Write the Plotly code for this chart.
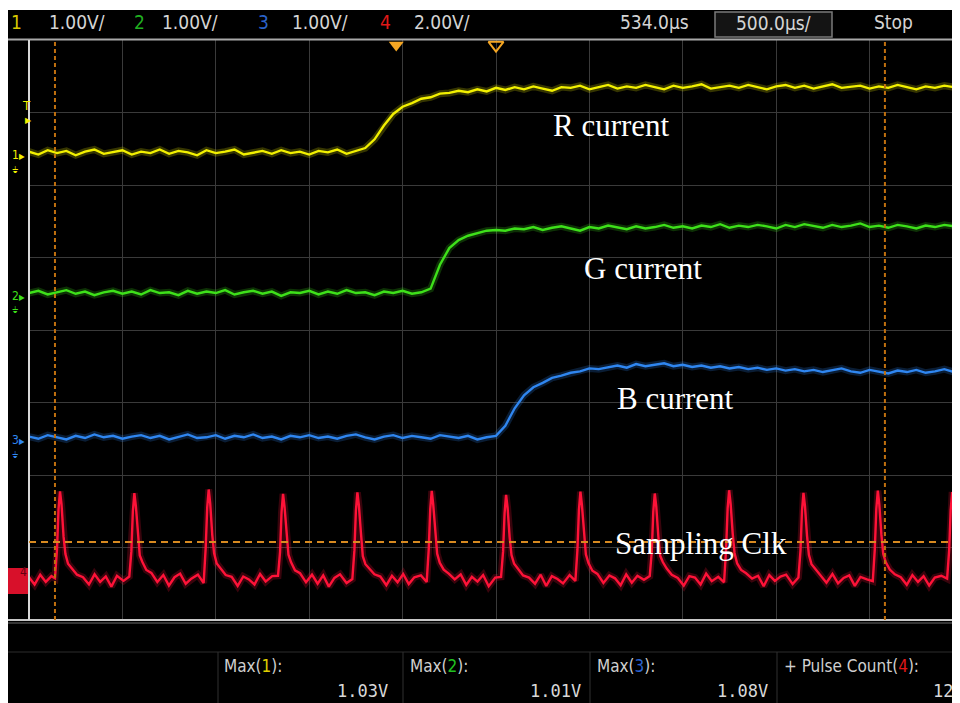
import plotly.graph_objects as go

# ---------------- data ----------------
# regular acquisition timebase: 50 us per sample, 100 samples
sample_t_us = [i * 50 for i in range(100)]

# Channel 1 (R current), volts
ch1_R = [0.05, 0.01, 0.07, 0.03, 0.06, 0.00, 0.05, 0.08, 0.02, 0.04,
         0.07, 0.01, 0.05, 0.03, 0.08, 0.02, 0.06, 0.04, 0.00, 0.07,
         0.03, 0.05, 0.08, 0.01, 0.04, 0.06, 0.02, 0.07, 0.03, 0.05,
         0.01, 0.06, 0.04, 0.08, 0.02,
         0.06, 0.10, 0.22, 0.41, 0.57, 0.67, 0.72, 0.78, 0.80, 0.85, 0.86, 0.89, 0.87,
         0.91, 0.88, 0.93, 0.90, 0.94, 0.91, 0.95, 0.92, 0.89, 0.94,
         0.93, 0.96, 0.91, 0.94, 0.97, 0.92, 0.95, 0.93, 0.97, 0.94,
         0.91, 0.96, 0.93, 0.95, 0.98, 0.92, 0.94, 0.96, 0.93, 0.97,
         0.94, 0.91, 0.95, 0.97, 0.93, 0.96, 0.92, 0.95, 0.98, 0.93,
         0.94, 0.96, 0.92, 0.95, 0.93, 0.97, 0.94, 0.91, 0.95, 0.93,
         0.96, 0.94]

# Channel 2 (G current), volts
ch2_G = [0.04, 0.07, 0.02, 0.05, 0.08, 0.03, 0.06, 0.01, 0.05, 0.07,
         0.03, 0.06, 0.02, 0.08, 0.04, 0.05, 0.01, 0.07, 0.03, 0.06,
         0.04, 0.08, 0.02, 0.05, 0.07, 0.03, 0.06, 0.00, 0.05, 0.04,
         0.07, 0.02, 0.06, 0.03, 0.08, 0.04, 0.05, 0.01, 0.06, 0.04,
         0.07, 0.03, 0.05,
         0.10, 0.43, 0.66, 0.77, 0.83, 0.87, 0.90, 0.91, 0.90, 0.93,
         0.92, 0.95, 0.91, 0.94, 0.96, 0.93, 0.90, 0.95, 0.93, 0.97,
         0.94, 0.92, 0.96, 0.93, 0.95, 0.98, 0.94, 0.96, 0.93, 0.97,
         0.95, 0.99, 0.94, 0.97, 0.95, 0.98, 0.96, 0.93, 0.98, 0.95,
         0.99, 0.96, 0.94, 0.98, 0.95, 0.97, 1.00, 0.95, 0.97, 0.94,
         0.98, 0.96, 0.93, 0.97, 0.95, 0.98, 0.96]

# Channel 3 (B current), volts
ch3_B = [0.05, 0.02, 0.07, 0.04, 0.01, 0.06, 0.03, 0.08, 0.04, 0.06,
         0.02, 0.05, 0.07, 0.03, 0.06, 0.01, 0.05, 0.08, 0.03, 0.04,
         0.07, 0.02, 0.06, 0.04, 0.08, 0.03, 0.05, 0.01, 0.06, 0.04,
         0.07, 0.03, 0.05, 0.02, 0.06, 0.08, 0.04, 0.01, 0.05, 0.07,
         0.03, 0.06, 0.04, 0.02, 0.07, 0.05, 0.03, 0.06, 0.01, 0.04,
         0.06, 0.20, 0.44, 0.62, 0.73, 0.79, 0.86, 0.89, 0.93, 0.95, 0.99, 0.98,
         1.01, 1.03, 1.00, 1.05, 1.02, 1.04, 1.06, 1.02, 1.04, 1.01,
         1.03, 1.00, 1.02, 0.99, 1.01, 0.98, 1.00, 0.97, 0.99, 0.96,
         0.98, 0.95, 0.97, 0.94, 0.96, 0.99, 0.95, 0.93, 0.97, 0.95,
         0.92, 0.96, 0.94, 0.97, 0.93, 0.95, 0.98, 0.94]

# Channel 4 (Sampling clock), volts
clk_pre_t_us = [0, 30, 60, 90, 120]
clk_pre_v = [0.08, -0.12, 0.15, -0.05, 0.11]
clk_peaks_us = [166, 564, 962, 1360, 1758, 2156, 2554, 2952, 3350, 3748, 4146, 4544, 4942]
clk_offsets_us = [-27, -16, -8, 0, 8, 19, 29, 43, 64, 91, 123, 155, 185, 215, 245, 275, 305, 340]
clk_pulses_v = [
    [0.05, 0.85, 1.95, 2.45, 2.10, 1.20, 0.72, 0.45, 0.32, 0.15, 0.08, -0.12, 0.16, -0.05, 0.10, -0.18, 0.12, -0.02],
    [0.10, 0.80, 1.90, 2.40, 2.05, 1.28, 0.68, 0.50, 0.28, 0.20, -0.05, 0.14, -0.15, 0.08, 0.18, -0.10, 0.04, 0.15],
    [-0.08, 0.90, 2.00, 2.50, 2.12, 1.25, 0.74, 0.46, 0.33, 0.14, 0.09, -0.16, 0.10, 0.02, -0.12, 0.17, -0.04, 0.11],
    [0.12, 0.78, 1.88, 2.38, 2.02, 1.22, 0.70, 0.49, 0.27, 0.19, -0.06, 0.15, -0.10, 0.13, -0.18, 0.06, 0.16, -0.08],
    [0.03, 0.82, 1.92, 2.42, 2.06, 1.30, 0.66, 0.44, 0.31, 0.16, 0.10, -0.14, 0.12, -0.06, 0.17, -0.11, 0.08, 0.13],
    [-0.05, 0.86, 1.96, 2.46, 2.08, 1.24, 0.73, 0.48, 0.29, 0.18, 0.02, 0.16, -0.13, 0.09, -0.04, 0.14, -0.17, 0.07],
    [0.09, 0.80, 1.85, 2.35, 2.00, 1.18, 0.69, 0.45, 0.30, 0.13, 0.07, -0.10, 0.15, -0.16, 0.11, 0.03, -0.09, 0.14],
    [-0.02, 0.84, 1.94, 2.44, 2.07, 1.27, 0.71, 0.47, 0.26, 0.17, -0.08, 0.13, 0.05, -0.14, 0.16, -0.07, 0.12, 0.01],
    [0.11, 0.79, 1.89, 2.39, 2.03, 1.21, 0.67, 0.50, 0.32, 0.15, 0.06, -0.15, 0.11, 0.07, -0.12, 0.18, -0.03, 0.09],
    [-0.06, 0.88, 1.98, 2.48, 2.11, 1.29, 0.75, 0.46, 0.28, 0.19, 0.04, 0.12, -0.17, 0.14, -0.02, 0.10, 0.15, -0.11],
    [0.07, 0.81, 1.91, 2.41, 2.04, 1.23, 0.70, 0.44, 0.31, 0.14, -0.07, 0.17, -0.09, 0.06, 0.13, -0.16, 0.09, 0.02],
    [-0.03, 0.87, 1.97, 2.47, 2.09, 1.26, 0.72, 0.49, 0.29, 0.16, 0.08, -0.13, 0.14, -0.05, 0.11, -0.15, 0.07, 0.12],
    [0.04, 0.83, 1.93, 2.43, 2.06, 1.24, 0.71, 0.47, 0.30, 0.17, 0.05, -0.11, 0.13, -0.04, 0.10, -0.14, 0.08, 0.03],
]

# scope settings
ch_labels = ["R current", "G current", "B current", "Sampling Clk"]
ch_volts_per_div = [1.0, 1.0, 1.0, 2.0]
ch_ground_div = [6.41, 4.47, 2.48, 0.55]      # ground marker position in divisions from bottom
ch_colors = ["#f2f000", "#3ee01a", "#2f86f0", "#ff1238"]
ch_text_colors = ["#d8c800", "#20b020", "#2a62c8", "#e01818"]
scale_texts = ["1.00V/", "1.00V/", "1.00V/", "2.00V/"]
time_per_div_us = 500
delay_us = 534.0
screen_divs_x = 10
screen_divs_y = 8
cursor_t_us = [139, 4582]
cursor_level_ch4_v = 1.05
meas_names = ["Max(<span style='color:#e0d000'>1</span>):",
              "Max(<span style='color:#20c020'>2</span>):",
              "Max(<span style='color:#2a62d0'>3</span>):",
              "+ Pulse Count(<span style='color:#e01818'>4</span>):"]
meas_values = ["1.03V", "1.01V", "1.08V", "12"]

# ---------------- build ----------------
clk_t = clk_pre_t_us + [p + o for p in clk_peaks_us for o in clk_offsets_us]
clk_v = clk_pre_v + [v for row in clk_pulses_v for v in row]

OFF = 8                      # page body margin around the figure
W, H = 960, 703
L, T = 21, 32                # figure-pixel margins
PLOT_BOTTOM = 612
B = H - PLOT_BOTTOM
PW = W - L
PH = PLOT_BOTTOM - T
px_per_div = 93.4
x_max = PW / px_per_div * time_per_div_us


def PX(page_px):
    return (page_px - OFF - L) / PW


def PY(page_py):
    return (PLOT_BOTTOM - (page_py - OFF)) / PH


fig = go.Figure()

series = [(sample_t_us, ch1_R), (sample_t_us, ch2_G), (sample_t_us, ch3_B), (clk_t, clk_v)]
for i, (tx, vy) in enumerate(series):
    ax = "y%d" % (i + 2)
    c = ch_colors[i]
    fig.add_trace(go.Scatter(x=tx, y=vy, yaxis=ax, mode="lines",
                             line=dict(color=c, width=7), opacity=0.22,
                             hoverinfo="skip", showlegend=False))
    fig.add_trace(go.Scatter(x=tx, y=vy, yaxis=ax, mode="lines",
                             line=dict(color=c, width=2.4),
                             hoverinfo="skip", showlegend=False))

# trigger markers
trig_t = screen_divs_x / 2 * time_per_div_us - delay_us
fig.add_trace(go.Scatter(x=[trig_t], y=[7.93], mode="markers", cliponaxis=False,
                         marker=dict(symbol="triangle-down", size=13, color="#f5a623"),
                         hoverinfo="skip", showlegend=False))
fig.add_trace(go.Scatter(x=[screen_divs_x / 2 * time_per_div_us], y=[7.93], mode="markers",
                         cliponaxis=False,
                         marker=dict(symbol="triangle-down-open", size=13,
                                     color="#f5a623", line=dict(width=2, color="#f5a623")),
                         hoverinfo="skip", showlegend=False))

grid = "#3a3a3a"
layout = dict(
    width=W, height=H,
    margin=dict(l=L, r=0, t=T, b=B, pad=0),
    paper_bgcolor="#000000", plot_bgcolor="#000000",
    showlegend=False, hovermode=False,
    xaxis=dict(range=[0, x_max], dtick=time_per_div_us, tick0=0, showgrid=True,
               gridcolor=grid, gridwidth=1, showticklabels=False, zeroline=False,
               ticks="", showline=False, fixedrange=True),
    yaxis=dict(range=[0, screen_divs_y], dtick=1, tick0=0, showgrid=True,
               gridcolor=grid, gridwidth=1, showticklabels=False, zeroline=False,
               ticks="", showline=False, fixedrange=True),
)
for i in range(4):
    g = ch_ground_div[i]
    s = ch_volts_per_div[i]
    layout["yaxis%d" % (i + 2)] = dict(overlaying="y", range=[-g * s, (screen_divs_y - g) * s],
                                       visible=False, fixedrange=True)
fig.update_layout(**layout)

shapes = []
# thin white strip at very top (screen starts slightly lower)
shapes.append(dict(type="rect", xref="paper", yref="paper", x0=PX(0), x1=1.01, y0=PY(10), y1=PY(7),
                   fillcolor="white", line=dict(width=0), layer="above"))
# borders of the graticule
shapes.append(dict(type="line", xref="paper", yref="paper", x0=PX(8), x1=1, y0=PY(39.5), y1=PY(39.5),
                   line=dict(color="#a8a8a8", width=2)))
shapes.append(dict(type="line", xref="paper", yref="paper", x0=PX(8), x1=1, y0=0, y1=0,
                   line=dict(color="#c8c8c8", width=2)))
shapes.append(dict(type="line", xref="paper", yref="paper", x0=PX(8), x1=1, y0=PY(623), y1=PY(623),
                   line=dict(color="#6a6a6a", width=1)))
shapes.append(dict(type="line", xref="paper", yref="paper", x0=0, x1=0, y0=0, y1=1,
                   line=dict(color="#d8d8d8", width=2)))
# measurement panel
shapes.append(dict(type="line", xref="paper", yref="paper", x0=PX(8), x1=1, y0=PY(652), y1=PY(652),
                   line=dict(color="#2c2c2c", width=1)))
for sx in [218, 403, 590, 777]:
    shapes.append(dict(type="line", xref="paper", yref="paper", x0=PX(sx), x1=PX(sx),
                       y0=PY(652), y1=PY(703), line=dict(color="#303030", width=1)))
# timebase box
shapes.append(dict(type="rect", xref="paper", yref="paper", x0=PX(715), x1=PX(832),
                   y0=PY(37), y1=PY(12), fillcolor="#141414", line=dict(color="#7a7a7a", width=1.5)))
# cursors
for ct in cursor_t_us:
    shapes.append(dict(type="line", xref="x", yref="paper", x0=ct, x1=ct, y0=0, y1=1,
                       line=dict(color="#c0700f", width=2, dash="4px,3px")))
shapes.append(dict(type="line", xref="paper", yref="y5", x0=0, x1=1,
                   y0=cursor_level_ch4_v, y1=cursor_level_ch4_v,
                   line=dict(color="#d88a20", width=2, dash="7px,5px")))
# channel 4 ground marker box
shapes.append(dict(type="rect", xref="paper", yref="paper", x0=PX(8), x1=PX(28),
                   y0=PY(594), y1=PY(568), fillcolor="#d8102a", line=dict(width=0)))
fig.update_layout(shapes=shapes)

ann = []
top_font = "Liberation Sans Narrow, DejaVu Sans Condensed, Roboto, Arial"
num_x = [16, 139, 263, 385]
txt_x = [47, 160, 290, 412]
for i in range(4):
    ann.append(dict(xref="paper", yref="paper", x=PX(num_x[i]), y=PY(22), text=str(i + 1),
                    showarrow=False, xanchor="center", yanchor="middle",
                    font=dict(family=top_font, size=19, color=ch_text_colors[i])))
    ann.append(dict(xref="paper", yref="paper", x=PX(txt_x[i]), y=PY(22), text=scale_texts[i],
                    showarrow=False, xanchor="left", yanchor="middle",
                    font=dict(family=top_font, size=19, color="#d4d4d4")))
ann.append(dict(xref="paper", yref="paper", x=PX(618), y=PY(22), text="%.1fµs" % delay_us,
                showarrow=False, xanchor="left", yanchor="middle",
                font=dict(family=top_font, size=19, color="#d4d4d4")))
ann.append(dict(xref="paper", yref="paper", x=PX(773), y=PY(23), text="%.1fµs/" % time_per_div_us,
                showarrow=False, xanchor="center", yanchor="middle",
                font=dict(family=top_font, size=19, color="#d4d4d4")))
ann.append(dict(xref="paper", yref="paper", x=PX(872), y=PY(22), text="Stop",
                showarrow=False, xanchor="left", yanchor="middle",
                font=dict(family=top_font, size=19, color="#d4d4d4")))

# channel / trigger markers at the left edge
ann.append(dict(xref="paper", yref="paper", x=PX(20), y=PY(96), text="T", showarrow=False,
                font=dict(family=top_font, size=13, color=ch_colors[0])))
ann.append(dict(xref="paper", yref="paper", x=PX(23), y=PY(114), text="▶", showarrow=False,
                font=dict(family="DejaVu Sans", size=8, color=ch_colors[0])))
for i in range(3):
    yref = "y%d" % (i + 2)
    ann.append(dict(xref="paper", yref=yref, x=PX(18), y=0,
                    text=str(i + 1) + "<span style='font-size:8px'>▶</span>", showarrow=False,
                    xanchor="center", yanchor="middle",
                    font=dict(family=top_font, size=12, color=ch_colors[i])))
    ann.append(dict(xref="paper", yref=yref, x=PX(15), y=-0.2 * ch_volts_per_div[i], text="⏚",
                    showarrow=False, xanchor="center", yanchor="middle",
                    font=dict(family="DejaVu Sans", size=9, color=ch_colors[i])))
ann.append(dict(xref="paper", yref="paper", x=PX(18), y=PY(581), text="4", showarrow=False,
                font=dict(family=top_font, size=12, color="#600010")))

# trace labels
lab_pos = [(611, 126), (643, 268), (675, 398), (701, 543)]
for i, (lx, ly) in enumerate(lab_pos):
    ann.append(dict(xref="paper", yref="paper", x=PX(lx), y=PY(ly), text=ch_labels[i],
                    showarrow=False, xanchor="center", yanchor="middle",
                    font=dict(family="Liberation Serif, Times New Roman, serif", size=31, color="white")))

# measurements
name_x = [222, 408, 595, 782]
val_right = [390, 583, 770, 955]
for i in range(4):
    ann.append(dict(xref="paper", yref="paper", x=PX(name_x[i]), y=PY(666), text=meas_names[i],
                    showarrow=False, xanchor="left", yanchor="middle",
                    font=dict(family=top_font, size=17, color="#cfcfcf")))
    ann.append(dict(xref="paper", yref="paper", x=PX(val_right[i]), y=PY(691), text=meas_values[i],
                    showarrow=False, xanchor="right", yanchor="middle",
                    font=dict(family="DejaVu Sans Mono, Liberation Mono, monospace", size=17,
                              color="#d8d8d8")))
fig.update_layout(annotations=ann)

fig.write_html("out.html")
